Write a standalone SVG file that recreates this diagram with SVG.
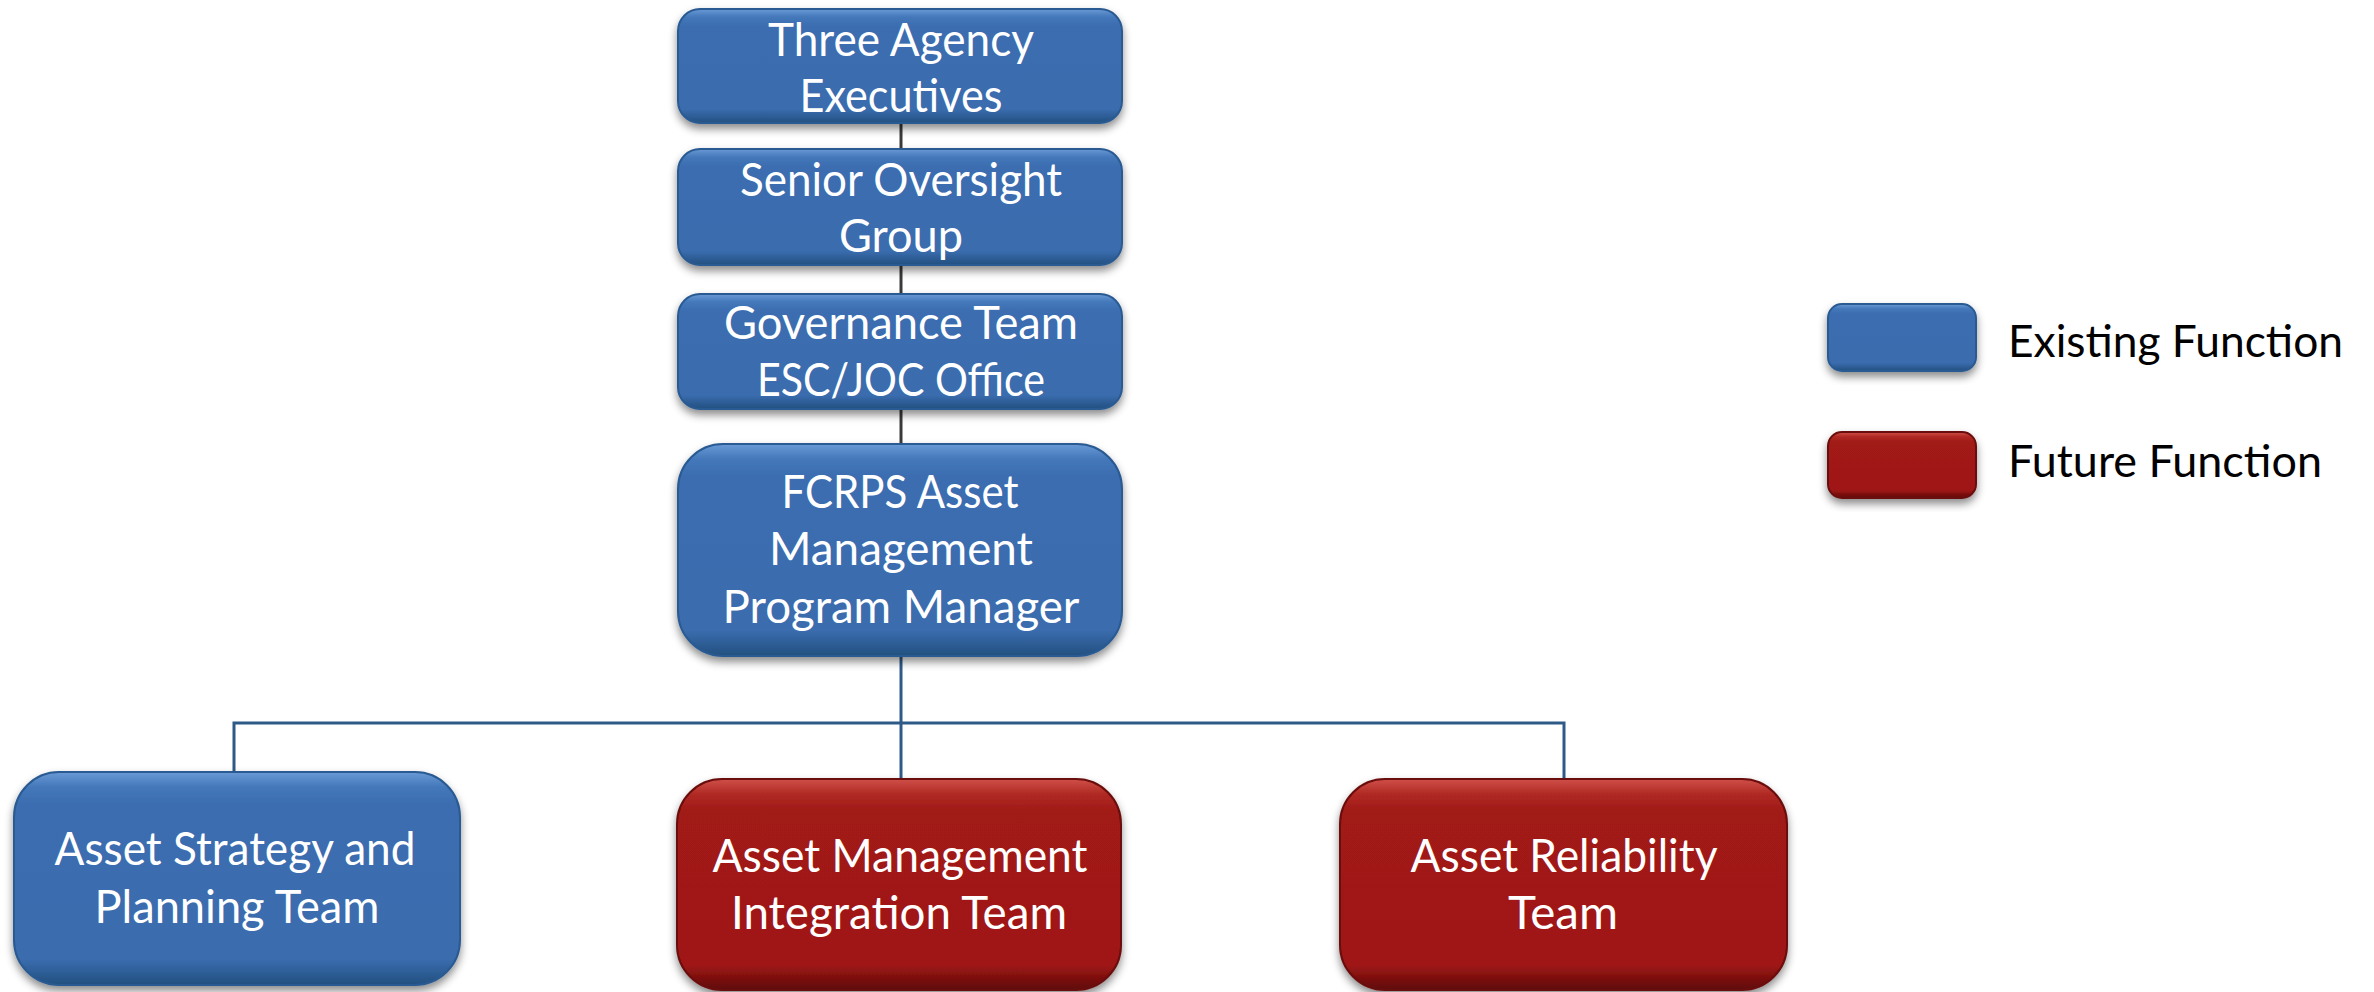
<svg xmlns="http://www.w3.org/2000/svg" width="2374" height="992" viewBox="0 0 2374 992">
<defs>
<linearGradient id="gBlue" x1="0" y1="0" x2="0" y2="1">
<stop offset="0" stop-color="#6a9ad6"/>
<stop offset="0.07" stop-color="#4478ba"/>
<stop offset="0.15" stop-color="#3b6db0"/>
<stop offset="0.88" stop-color="#3a6cae"/>
<stop offset="1" stop-color="#22507f"/>
</linearGradient>
<linearGradient id="gRed" x1="0" y1="0" x2="0" y2="1">
<stop offset="0" stop-color="#d0504a"/>
<stop offset="0.07" stop-color="#b02a24"/>
<stop offset="0.15" stop-color="#a11a17"/>
<stop offset="0.88" stop-color="#a01816"/>
<stop offset="1" stop-color="#5e0808"/>
</linearGradient>
<filter id="sh" x="-10%" y="-10%" width="120%" height="130%">
<feDropShadow dx="0" dy="5" stdDeviation="4" flood-color="#000" flood-opacity="0.45"/>
</filter>
</defs>
<style>
.blue{fill:url(#gBlue);stroke:#2a5a92;stroke-width:2;filter:url(#sh)}
.red{fill:url(#gRed);stroke:#6a0c0c;stroke-width:2;filter:url(#sh)}
.t{font-family:Lato,"Open Sans","Liberation Sans",sans-serif;font-size:46px;fill:#fff;text-anchor:middle}
.lg{font-family:Lato,"Open Sans","Liberation Sans",sans-serif;font-size:44px;fill:#000}
.c1{stroke:#3a3a3a;stroke-width:3;fill:none}
.c2{stroke:#2e5a88;stroke-width:3;fill:none}
</style>
<rect width="2374" height="992" fill="#fff"/>
<g id="connectors">
<line class="c1" x1="901" y1="122" x2="901" y2="150"/>
<line class="c1" x1="901" y1="264" x2="901" y2="295"/>
<line class="c1" x1="901" y1="408" x2="901" y2="445"/>
<line class="c2" x1="901" y1="655" x2="901" y2="780"/>
<polyline class="c2" points="234,772 234,723 1564,723 1564,780"/>
</g>
<g id="n1">
<rect class="blue" x="678" y="9" width="444" height="114" rx="22"/>
<text class="t" x="901" y="56" textLength="266" lengthAdjust="spacingAndGlyphs">Three Agency</text>
<text class="t" x="901" y="112" textLength="203" lengthAdjust="spacingAndGlyphs">Executives</text>
</g>
<g id="n2">
<rect class="blue" x="678" y="149" width="444" height="116" rx="22"/>
<text class="t" x="901" y="196" textLength="322" lengthAdjust="spacingAndGlyphs">Senior Oversight</text>
<text class="t" x="901" y="252" textLength="124" lengthAdjust="spacingAndGlyphs">Group</text>
</g>
<g id="n3">
<rect class="blue" x="678" y="294" width="444" height="115" rx="22"/>
<text class="t" x="901" y="339" textLength="354" lengthAdjust="spacingAndGlyphs">Governance Team</text>
<text class="t" x="901" y="396" textLength="288" lengthAdjust="spacingAndGlyphs">ESC/JOC Office</text>
</g>
<g id="n4">
<rect class="blue" x="678" y="444" width="444" height="212" rx="45"/>
<text class="t" x="900" y="508" textLength="237" lengthAdjust="spacingAndGlyphs">FCRPS Asset</text>
<text class="t" x="901" y="565" textLength="264" lengthAdjust="spacingAndGlyphs">Management</text>
<text class="t" x="901" y="623" textLength="357" lengthAdjust="spacingAndGlyphs">Program Manager</text>
</g>
<g id="n5">
<rect class="blue" x="14" y="772" width="446" height="213" rx="45"/>
<text class="t" x="235" y="865" textLength="361" lengthAdjust="spacingAndGlyphs">Asset Strategy and</text>
<text class="t" x="237" y="923" textLength="285" lengthAdjust="spacingAndGlyphs">Planning Team</text>
</g>
<g id="n6">
<rect class="red" x="677" y="779" width="444" height="211" rx="45"/>
<text class="t" x="900" y="872" textLength="375" lengthAdjust="spacingAndGlyphs">Asset Management</text>
<text class="t" x="899" y="929" textLength="336" lengthAdjust="spacingAndGlyphs">Integration Team</text>
</g>
<g id="n7">
<rect class="red" x="1340" y="779" width="447" height="211" rx="45"/>
<text class="t" x="1564" y="872" textLength="307" lengthAdjust="spacingAndGlyphs">Asset Reliability</text>
<text class="t" x="1563" y="929" textLength="110" lengthAdjust="spacingAndGlyphs">Team</text>
</g>
<g id="legend-existing">
<rect class="blue" x="1828" y="304" width="148" height="67" rx="14"/>
<text class="lg" x="2008" y="357" textLength="335" lengthAdjust="spacingAndGlyphs">Existing Function</text>
</g>
<g id="legend-future">
<rect class="red" x="1828" y="432" width="148" height="66" rx="14"/>
<text class="lg" x="2008" y="477" textLength="314" lengthAdjust="spacingAndGlyphs">Future Function</text>
</g>
</svg>
